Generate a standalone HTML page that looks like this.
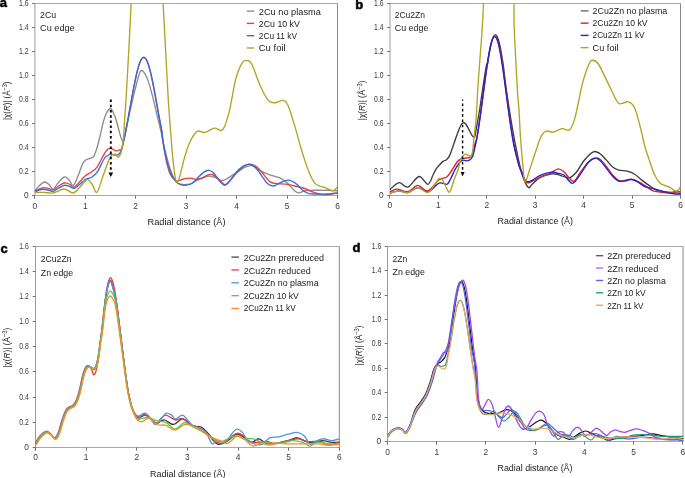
<!DOCTYPE html>
<html><head><meta charset="utf-8"><style>
html,body{margin:0;padding:0;background:#fff;overflow:hidden;}
svg{display:block;will-change:transform;font-family:"Liberation Sans", sans-serif;}
</style></head><body>
<svg width="685" height="478" viewBox="0 0 685 478">
<rect width="685" height="478" fill="#fff"/>
<clipPath id="clipa"><rect x="34.90" y="3.50" width="302.60" height="192.00"/></clipPath>
<line x1="34.90" y1="3.50" x2="338.00" y2="3.50" stroke="#a8a8a8" stroke-width="1"/>
<line x1="34.90" y1="195.50" x2="337.50" y2="195.50" stroke="#a8a8a8" stroke-width="1"/>
<line x1="34.90" y1="3.00" x2="34.90" y2="196.00" stroke="#9c9c9c" stroke-width="1"/>
<line x1="337.50" y1="4.00" x2="337.50" y2="196.00" stroke="#8a8a8a" stroke-width="1"/>
<line x1="32.10" y1="195.50" x2="34.90" y2="195.50" stroke="#707070" stroke-width="1"/>
<text x="28.60" y="197.90" font-size="8.40" fill="#3a3a3a" text-anchor="end" font-weight="normal">0</text>
<line x1="32.10" y1="171.50" x2="34.90" y2="171.50" stroke="#707070" stroke-width="1"/>
<text x="28.60" y="173.90" font-size="8.40" fill="#3a3a3a" text-anchor="end" font-weight="normal" textLength="9.50" lengthAdjust="spacingAndGlyphs">0.2</text>
<line x1="32.10" y1="147.50" x2="34.90" y2="147.50" stroke="#707070" stroke-width="1"/>
<text x="28.60" y="149.90" font-size="8.40" fill="#3a3a3a" text-anchor="end" font-weight="normal" textLength="9.50" lengthAdjust="spacingAndGlyphs">0.4</text>
<line x1="32.10" y1="123.50" x2="34.90" y2="123.50" stroke="#707070" stroke-width="1"/>
<text x="28.60" y="125.90" font-size="8.40" fill="#3a3a3a" text-anchor="end" font-weight="normal" textLength="9.50" lengthAdjust="spacingAndGlyphs">0.6</text>
<line x1="32.10" y1="99.50" x2="34.90" y2="99.50" stroke="#707070" stroke-width="1"/>
<text x="28.60" y="101.90" font-size="8.40" fill="#3a3a3a" text-anchor="end" font-weight="normal" textLength="9.50" lengthAdjust="spacingAndGlyphs">0.8</text>
<line x1="32.10" y1="75.50" x2="34.90" y2="75.50" stroke="#707070" stroke-width="1"/>
<text x="28.60" y="77.90" font-size="8.40" fill="#3a3a3a" text-anchor="end" font-weight="normal" textLength="9.50" lengthAdjust="spacingAndGlyphs">1.0</text>
<line x1="32.10" y1="51.50" x2="34.90" y2="51.50" stroke="#707070" stroke-width="1"/>
<text x="28.60" y="53.90" font-size="8.40" fill="#3a3a3a" text-anchor="end" font-weight="normal" textLength="9.50" lengthAdjust="spacingAndGlyphs">1.2</text>
<line x1="32.10" y1="27.50" x2="34.90" y2="27.50" stroke="#707070" stroke-width="1"/>
<text x="28.60" y="29.90" font-size="8.40" fill="#3a3a3a" text-anchor="end" font-weight="normal" textLength="9.50" lengthAdjust="spacingAndGlyphs">1.4</text>
<line x1="32.10" y1="3.50" x2="34.90" y2="3.50" stroke="#707070" stroke-width="1"/>
<text x="28.60" y="5.90" font-size="8.40" fill="#3a3a3a" text-anchor="end" font-weight="normal" textLength="9.50" lengthAdjust="spacingAndGlyphs">1.6</text>
<line x1="34.50" y1="195.50" x2="34.50" y2="198.70" stroke="#707070" stroke-width="1"/>
<text x="34.80" y="208.80" font-size="8.40" fill="#3a3a3a" text-anchor="middle" font-weight="normal">0</text>
<line x1="85.50" y1="195.50" x2="85.50" y2="198.70" stroke="#707070" stroke-width="1"/>
<text x="85.25" y="208.80" font-size="8.40" fill="#3a3a3a" text-anchor="middle" font-weight="normal">1</text>
<line x1="135.50" y1="195.50" x2="135.50" y2="198.70" stroke="#707070" stroke-width="1"/>
<text x="135.70" y="208.80" font-size="8.40" fill="#3a3a3a" text-anchor="middle" font-weight="normal">2</text>
<line x1="186.50" y1="195.50" x2="186.50" y2="198.70" stroke="#707070" stroke-width="1"/>
<text x="186.15" y="208.80" font-size="8.40" fill="#3a3a3a" text-anchor="middle" font-weight="normal">3</text>
<line x1="236.50" y1="195.50" x2="236.50" y2="198.70" stroke="#707070" stroke-width="1"/>
<text x="236.60" y="208.80" font-size="8.40" fill="#3a3a3a" text-anchor="middle" font-weight="normal">4</text>
<line x1="287.50" y1="195.50" x2="287.50" y2="198.70" stroke="#707070" stroke-width="1"/>
<text x="287.05" y="208.80" font-size="8.40" fill="#3a3a3a" text-anchor="middle" font-weight="normal">5</text>
<line x1="337.50" y1="195.50" x2="337.50" y2="198.70" stroke="#707070" stroke-width="1"/>
<text x="337.50" y="208.80" font-size="8.40" fill="#3a3a3a" text-anchor="middle" font-weight="normal">6</text>
<path d="M35.00,190.80C35.75,189.92 37.90,186.97 39.50,185.50C41.10,184.03 43.02,182.17 44.60,182.00C46.18,181.83 47.58,183.30 49.00,184.50C50.42,185.70 51.60,189.45 53.10,189.20C54.60,188.95 56.13,185.03 58.00,183.00C59.87,180.97 62.47,177.50 64.30,177.00C66.13,176.50 67.50,178.58 69.00,180.00C70.50,181.42 71.80,186.17 73.30,185.50C74.80,184.83 76.47,179.58 78.00,176.00C79.53,172.42 81.17,166.70 82.50,164.00C83.83,161.30 84.75,160.73 86.00,159.80C87.25,158.87 88.73,158.95 90.00,158.40C91.27,157.85 92.50,158.07 93.60,156.50C94.70,154.93 95.60,152.08 96.60,149.00C97.60,145.92 98.57,142.17 99.60,138.00C100.63,133.83 101.73,128.00 102.80,124.00C103.87,120.00 104.75,116.58 106.00,114.00C107.25,111.42 109.05,108.67 110.30,108.50C111.55,108.33 112.55,111.17 113.50,113.00C114.45,114.83 115.17,116.87 116.00,119.50C116.83,122.13 117.62,125.67 118.50,128.80C119.38,131.93 120.45,136.33 121.30,138.30C122.15,140.27 122.77,142.32 123.60,140.60C124.43,138.88 125.38,132.27 126.30,128.00C127.22,123.73 128.20,119.08 129.10,115.00C130.00,110.92 130.85,107.13 131.70,103.50C132.55,99.87 133.40,96.45 134.20,93.20C135.00,89.95 135.78,86.78 136.50,84.00C137.22,81.22 137.90,78.53 138.50,76.50C139.10,74.47 139.65,72.80 140.10,71.80C140.55,70.80 140.68,70.57 141.20,70.50C141.72,70.43 142.53,70.81 143.20,71.41C143.87,72.01 144.53,72.92 145.20,74.09C145.87,75.25 146.53,76.73 147.20,78.40C147.87,80.08 148.53,82.04 149.20,84.16C149.87,86.27 150.53,88.62 151.20,91.07C151.87,93.52 152.53,96.17 153.20,98.86C153.87,101.54 154.53,104.37 155.20,107.18C155.87,109.99 156.53,112.89 157.20,115.73C157.87,118.56 158.53,121.43 159.20,124.21C159.87,126.98 160.50,129.15 161.20,132.37C161.90,135.59 162.33,138.86 163.40,143.50C164.47,148.14 166.20,155.18 167.60,160.20C169.00,165.22 170.42,170.03 171.80,173.60C173.18,177.17 174.53,179.85 175.90,181.60C177.27,183.35 177.72,183.68 180.00,184.10C182.28,184.52 186.60,184.80 189.60,184.10C192.60,183.40 195.02,181.20 198.00,179.90C200.98,178.60 204.92,176.80 207.50,176.30C210.08,175.80 211.10,176.20 213.50,176.90C215.90,177.60 219.50,180.30 221.90,180.50C224.30,180.70 225.50,179.40 227.90,178.10C230.30,176.80 233.52,174.48 236.30,172.70C239.08,170.92 242.22,168.58 244.60,167.40C246.98,166.22 248.87,165.72 250.60,165.60C252.33,165.48 253.23,165.78 255.00,166.70C256.77,167.62 258.72,169.75 261.20,171.10C263.68,172.45 266.80,173.67 269.90,174.80C273.00,175.93 276.90,176.55 279.80,177.90C282.70,179.25 285.02,180.93 287.30,182.90C289.58,184.87 291.65,188.05 293.50,189.70C295.35,191.35 296.55,192.60 298.40,192.80C300.25,193.00 302.53,191.32 304.60,190.90C306.67,190.48 307.70,190.40 310.80,190.30C313.90,190.20 319.68,190.30 323.20,190.30C326.72,190.30 329.52,190.20 331.90,190.30C334.28,190.40 336.57,190.80 337.50,190.90" fill="none" stroke="#8c8c8c" stroke-width="1.35" stroke-linejoin="round" stroke-linecap="round" clip-path="url(#clipa)"/>
<path d="M35.00,191.40C35.67,191.00 37.58,189.63 39.00,189.00C40.42,188.37 42.00,187.72 43.50,187.60C45.00,187.48 46.40,187.93 48.00,188.30C49.60,188.67 51.43,190.10 53.10,189.80C54.77,189.50 56.13,187.63 58.00,186.50C59.87,185.37 62.47,183.42 64.30,183.00C66.13,182.58 67.38,183.30 69.00,184.00C70.62,184.70 72.25,187.53 74.00,187.20C75.75,186.87 77.62,183.90 79.50,182.00C81.38,180.10 83.35,177.43 85.30,175.80C87.25,174.17 89.22,173.70 91.20,172.20C93.18,170.70 95.12,169.70 97.20,166.80C99.28,163.90 102.07,157.60 103.70,154.80C105.33,152.00 105.95,151.08 107.00,150.00C108.05,148.92 109.00,148.42 110.00,148.30C111.00,148.18 112.00,148.88 113.00,149.30C114.00,149.72 114.92,150.68 116.00,150.80C117.08,150.92 118.55,150.31 119.50,150.00C120.45,149.69 121.00,150.53 121.70,148.96C122.40,147.39 123.03,143.57 123.70,140.59C124.37,137.61 125.03,134.41 125.70,131.10C126.37,127.78 127.03,124.26 127.70,120.69C128.37,117.12 129.03,113.39 129.70,109.69C130.37,106.00 131.03,102.19 131.70,98.53C132.37,94.86 133.03,91.17 133.70,87.71C134.37,84.26 135.03,80.86 135.70,77.80C136.37,74.75 137.03,71.85 137.70,69.37C138.37,66.89 139.03,64.67 139.70,62.93C140.37,61.18 141.03,59.78 141.70,58.88C142.37,57.98 143.03,57.50 143.70,57.50C144.37,57.50 145.03,57.98 145.70,58.88C146.37,59.78 147.03,61.18 147.70,62.93C148.37,64.67 149.03,66.89 149.70,69.37C150.37,71.85 151.03,74.75 151.70,77.80C152.37,80.86 153.03,84.26 153.70,87.71C154.37,91.17 155.03,94.86 155.70,98.53C156.37,102.19 157.03,106.00 157.70,109.69C158.37,113.39 159.03,117.12 159.70,120.69C160.37,124.26 161.12,127.30 161.70,131.10C162.28,134.90 162.45,138.65 163.20,143.50C163.95,148.35 165.07,155.18 166.20,160.20C167.33,165.22 168.45,170.22 170.00,173.60C171.55,176.98 173.83,179.40 175.50,180.50C177.17,181.60 178.45,180.50 180.00,180.20C181.55,179.90 183.00,179.05 184.80,178.70C186.60,178.35 189.00,178.00 190.80,178.10C192.60,178.20 193.82,179.30 195.60,179.30C197.38,179.30 199.52,178.80 201.50,178.10C203.48,177.40 205.70,175.70 207.50,175.10C209.30,174.50 210.50,173.90 212.30,174.50C214.10,175.10 216.20,177.00 218.30,178.70C220.40,180.40 222.90,184.50 224.90,184.70C226.90,184.90 228.20,182.00 230.30,179.90C232.40,177.80 235.12,174.48 237.50,172.10C239.88,169.72 242.42,166.93 244.60,165.60C246.78,164.27 248.60,163.90 250.60,164.10C252.60,164.30 254.63,165.32 256.60,166.80C258.57,168.28 260.18,170.53 262.40,173.00C264.62,175.47 267.62,179.85 269.90,181.60C272.18,183.35 273.42,183.08 276.10,183.50C278.78,183.92 282.90,183.68 286.00,184.10C289.10,184.52 291.60,185.27 294.70,186.00C297.80,186.73 301.50,187.47 304.60,188.50C307.70,189.53 310.20,191.17 313.30,192.20C316.40,193.23 320.10,194.40 323.20,194.70C326.30,195.00 329.52,194.32 331.90,194.00C334.28,193.68 336.57,193.00 337.50,192.80" fill="none" stroke="#ef3b3b" stroke-width="1.35" stroke-linejoin="round" stroke-linecap="round" clip-path="url(#clipa)"/>
<path d="M35.00,192.00C35.67,191.67 37.58,190.47 39.00,190.00C40.42,189.53 42.00,189.20 43.50,189.20C45.00,189.20 46.40,189.63 48.00,190.00C49.60,190.37 51.43,191.65 53.10,191.40C54.77,191.15 56.13,189.52 58.00,188.50C59.87,187.48 62.47,185.68 64.30,185.30C66.13,184.92 67.35,185.68 69.00,186.20C70.65,186.72 72.45,188.68 74.20,188.40C75.95,188.12 77.65,185.98 79.50,184.50C81.35,183.02 83.35,180.67 85.30,179.50C87.25,178.33 89.22,178.72 91.20,177.50C93.18,176.28 95.12,175.20 97.20,172.20C99.28,169.20 102.07,162.20 103.70,159.50C105.33,156.80 105.95,156.87 107.00,156.00C108.05,155.13 109.00,154.53 110.00,154.30C111.00,154.07 112.00,154.43 113.00,154.60C114.00,154.77 114.97,155.40 116.00,155.30C117.03,155.20 118.23,155.09 119.20,154.00C120.17,152.91 121.03,151.01 121.80,148.74C122.57,146.46 123.13,143.34 123.80,140.36C124.47,137.38 125.13,134.18 125.80,130.86C126.47,127.54 127.13,124.01 127.80,120.44C128.47,116.87 129.13,113.13 129.80,109.43C130.47,105.74 131.13,101.93 131.80,98.26C132.47,94.60 133.13,90.89 133.80,87.44C134.47,83.98 135.13,80.58 135.80,77.52C136.47,74.46 137.13,71.56 137.80,69.08C138.47,66.60 139.13,64.38 139.80,62.63C140.47,60.88 141.13,59.49 141.80,58.58C142.47,57.68 143.13,57.20 143.80,57.20C144.47,57.20 145.13,57.68 145.80,58.58C146.47,59.49 147.13,60.88 147.80,62.63C148.47,64.38 149.13,66.60 149.80,69.08C150.47,71.56 151.13,74.46 151.80,77.52C152.47,80.58 153.13,83.98 153.80,87.44C154.47,90.89 155.13,94.60 155.80,98.26C156.47,101.93 157.13,105.74 157.80,109.43C158.47,113.13 159.13,116.87 159.80,120.44C160.47,124.01 161.20,127.01 161.80,130.86C162.40,134.70 162.58,138.61 163.40,143.50C164.22,148.39 165.45,155.18 166.70,160.20C167.95,165.22 169.37,170.05 170.90,173.60C172.43,177.15 174.38,179.72 175.90,181.50C177.42,183.28 178.52,183.67 180.00,184.30C181.48,184.93 182.80,185.43 184.80,185.30C186.80,185.17 189.80,184.80 192.00,183.50C194.20,182.20 196.02,179.40 198.00,177.50C199.98,175.60 202.12,173.30 203.90,172.10C205.68,170.90 207.10,170.20 208.70,170.30C210.30,170.40 211.70,170.90 213.50,172.70C215.30,174.50 217.60,179.00 219.50,181.10C221.40,183.20 223.10,185.40 224.90,185.30C226.70,185.20 228.40,182.70 230.30,180.50C232.20,178.30 234.32,174.38 236.30,172.10C238.28,169.82 240.22,168.08 242.20,166.80C244.18,165.52 246.40,164.60 248.20,164.40C250.00,164.20 251.40,164.62 253.00,165.60C254.60,166.58 256.30,168.52 257.80,170.30C259.30,172.08 260.40,174.10 262.00,176.30C263.60,178.50 265.47,181.88 267.40,183.50C269.33,185.12 271.53,186.10 273.60,186.00C275.67,185.90 277.32,183.88 279.80,182.90C282.28,181.92 285.82,180.00 288.50,180.10C291.18,180.20 293.63,181.90 295.90,183.50C298.17,185.10 300.03,188.05 302.10,189.70C304.17,191.35 305.82,192.68 308.30,193.40C310.78,194.12 313.88,193.90 317.00,194.00C320.12,194.10 323.58,194.20 327.00,194.00C330.42,193.80 335.75,193.00 337.50,192.80" fill="none" stroke="#2b70dc" stroke-width="1.35" stroke-linejoin="round" stroke-linecap="round" clip-path="url(#clipa)"/>
<path d="M35.00,192.40C36.50,192.40 40.98,192.30 44.00,192.40C47.02,192.50 49.75,193.57 53.10,193.00C56.45,192.43 60.75,189.00 64.10,189.00C67.45,189.00 70.55,193.33 73.20,193.00C75.85,192.67 77.67,189.22 80.00,187.00C82.33,184.78 85.20,180.20 87.20,179.70C89.20,179.20 90.38,181.92 92.00,184.00C93.62,186.08 95.07,193.53 96.90,192.20C98.73,190.87 100.77,181.83 103.00,176.00C105.23,170.17 108.25,160.83 110.30,157.20C112.35,153.57 113.97,154.20 115.30,154.20C116.63,154.20 117.32,157.55 118.30,157.20C119.28,156.85 120.35,155.15 121.20,152.10C122.05,149.05 122.80,144.75 123.40,138.90C124.00,133.05 124.32,124.32 124.80,117.00C125.28,109.68 125.63,106.17 126.30,95.00C126.97,83.83 127.98,65.33 128.80,50.00C129.62,34.67 130.67,13.33 131.20,3.00C131.73,-7.33 126.78,-9.50 132.00,-12.00C137.22,-14.50 157.32,-14.50 162.50,-12.00C167.68,-9.50 162.58,-7.33 163.10,3.00C163.62,13.33 164.75,34.17 165.60,50.00C166.45,65.83 167.38,84.67 168.20,98.00C169.02,111.33 169.73,120.00 170.50,130.00C171.27,140.00 172.05,150.33 172.80,158.00C173.55,165.67 174.37,172.00 175.00,176.00C175.63,180.00 175.93,181.50 176.60,182.00C177.27,182.50 177.65,183.17 179.00,179.00C180.35,174.83 182.87,163.20 184.70,157.00C186.53,150.80 187.92,146.07 190.00,141.80C192.08,137.53 194.75,132.97 197.20,131.40C199.65,129.83 201.82,132.95 204.70,132.40C207.58,131.85 211.52,128.53 214.50,128.10C217.48,127.67 220.15,132.52 222.60,129.80C225.05,127.08 227.02,120.23 229.20,111.80C231.38,103.37 233.53,87.37 235.70,79.20C237.87,71.03 240.30,65.90 242.20,62.80C244.10,59.70 245.47,60.32 247.10,60.60C248.73,60.88 249.82,60.32 252.00,64.50C254.18,68.68 257.48,79.72 260.20,85.70C262.92,91.68 265.85,97.57 268.30,100.40C270.75,103.23 272.45,102.70 274.90,102.70C277.35,102.70 280.83,99.97 283.00,100.40C285.17,100.83 286.00,101.22 287.90,105.30C289.80,109.38 292.23,117.78 294.40,124.90C296.57,132.02 299.13,141.98 300.90,148.00C302.67,154.02 303.55,156.73 305.00,161.00C306.45,165.27 308.00,169.95 309.60,173.60C311.20,177.25 312.95,180.83 314.60,182.90C316.25,184.97 317.65,185.18 319.50,186.00C321.35,186.82 323.63,186.98 325.70,187.80C327.77,188.62 330.45,190.48 331.90,190.90C333.35,191.32 333.47,191.02 334.40,190.30C335.33,189.58 336.98,187.22 337.50,186.60" fill="none" stroke="#b3a322" stroke-width="1.35" stroke-linejoin="round" stroke-linecap="round" clip-path="url(#clipa)"/>
<line x1="110.80" y1="99.60" x2="110.80" y2="172.40" stroke="#000" stroke-width="1.90" stroke-dasharray="2.5 2.7" stroke-dashoffset="0.00"/>
<path d="M108.45,172.40L113.15,172.40L110.80,177.00Z" fill="#000"/>
<line x1="246.80" y1="11.10" x2="254.10" y2="11.10" stroke="#8c8c8c" stroke-width="1.4"/>
<text x="258.80" y="14.80" font-size="9.40" fill="#222222" text-anchor="start" font-weight="normal" textLength="62.00" lengthAdjust="spacingAndGlyphs">2Cu no plasma</text>
<line x1="246.80" y1="23.40" x2="254.10" y2="23.40" stroke="#ef3b3b" stroke-width="1.4"/>
<text x="258.80" y="27.00" font-size="9.40" fill="#222222" text-anchor="start" font-weight="normal" textLength="41.10" lengthAdjust="spacingAndGlyphs">2Cu 10 kV</text>
<line x1="246.80" y1="35.70" x2="254.10" y2="35.70" stroke="#2b70dc" stroke-width="1.4"/>
<text x="258.80" y="39.20" font-size="9.40" fill="#222222" text-anchor="start" font-weight="normal" textLength="38.20" lengthAdjust="spacingAndGlyphs">2Cu 11 kV</text>
<line x1="246.80" y1="48.00" x2="254.10" y2="48.00" stroke="#b3a322" stroke-width="1.4"/>
<text x="258.80" y="51.40" font-size="9.40" fill="#222222" text-anchor="start" font-weight="normal" textLength="26.80" lengthAdjust="spacingAndGlyphs">Cu foil</text>
<text x="40.00" y="18.30" font-size="9.40" fill="#222222" text-anchor="start" font-weight="normal" textLength="16.10" lengthAdjust="spacingAndGlyphs">2Cu</text>
<text x="40.00" y="31.40" font-size="9.40" fill="#222222" text-anchor="start" font-weight="normal" textLength="34.70" lengthAdjust="spacingAndGlyphs">Cu edge</text>
<text x="147.50" y="225.10" font-size="9.40" fill="#222222" text-anchor="start" font-weight="normal" textLength="78.00" lengthAdjust="spacingAndGlyphs">Radial distance (&#197;)</text>
<text transform="translate(9.50,100.75) rotate(-90)" font-size="9.30" fill="#222222" text-anchor="middle" textLength="38.50" lengthAdjust="spacingAndGlyphs">|&#967;(<tspan font-style="italic">R</tspan>)| (&#197;<tspan font-size="6.51" dy="-3">&#8722;3</tspan><tspan dy="3">)</tspan></text>
<text x="-0.30" y="6.80" font-size="13.00" fill="#000" text-anchor="start" font-weight="bold" stroke="#000" stroke-width="0.5">a</text>
<clipPath id="clipb"><rect x="390.00" y="3.50" width="290.50" height="192.00"/></clipPath>
<line x1="390.00" y1="3.50" x2="681.00" y2="3.50" stroke="#a8a8a8" stroke-width="1"/>
<line x1="390.00" y1="195.50" x2="680.50" y2="195.50" stroke="#a8a8a8" stroke-width="1"/>
<line x1="390.00" y1="3.00" x2="390.00" y2="196.00" stroke="#9c9c9c" stroke-width="1"/>
<line x1="680.50" y1="4.00" x2="680.50" y2="196.00" stroke="#8a8a8a" stroke-width="1"/>
<line x1="387.20" y1="195.50" x2="390.00" y2="195.50" stroke="#707070" stroke-width="1"/>
<text x="383.60" y="197.70" font-size="8.40" fill="#3a3a3a" text-anchor="end" font-weight="normal">0</text>
<line x1="387.20" y1="171.50" x2="390.00" y2="171.50" stroke="#707070" stroke-width="1"/>
<text x="383.60" y="173.71" font-size="8.40" fill="#3a3a3a" text-anchor="end" font-weight="normal" textLength="9.50" lengthAdjust="spacingAndGlyphs">0.2</text>
<line x1="387.20" y1="147.50" x2="390.00" y2="147.50" stroke="#707070" stroke-width="1"/>
<text x="383.60" y="149.72" font-size="8.40" fill="#3a3a3a" text-anchor="end" font-weight="normal" textLength="9.50" lengthAdjust="spacingAndGlyphs">0.4</text>
<line x1="387.20" y1="123.50" x2="390.00" y2="123.50" stroke="#707070" stroke-width="1"/>
<text x="383.60" y="125.74" font-size="8.40" fill="#3a3a3a" text-anchor="end" font-weight="normal" textLength="9.50" lengthAdjust="spacingAndGlyphs">0.6</text>
<line x1="387.20" y1="99.50" x2="390.00" y2="99.50" stroke="#707070" stroke-width="1"/>
<text x="383.60" y="101.75" font-size="8.40" fill="#3a3a3a" text-anchor="end" font-weight="normal" textLength="9.50" lengthAdjust="spacingAndGlyphs">0.8</text>
<line x1="387.20" y1="75.50" x2="390.00" y2="75.50" stroke="#707070" stroke-width="1"/>
<text x="383.60" y="77.76" font-size="8.40" fill="#3a3a3a" text-anchor="end" font-weight="normal" textLength="9.50" lengthAdjust="spacingAndGlyphs">1.0</text>
<line x1="387.20" y1="51.50" x2="390.00" y2="51.50" stroke="#707070" stroke-width="1"/>
<text x="383.60" y="53.77" font-size="8.40" fill="#3a3a3a" text-anchor="end" font-weight="normal" textLength="9.50" lengthAdjust="spacingAndGlyphs">1.2</text>
<line x1="387.20" y1="27.50" x2="390.00" y2="27.50" stroke="#707070" stroke-width="1"/>
<text x="383.60" y="29.78" font-size="8.40" fill="#3a3a3a" text-anchor="end" font-weight="normal" textLength="9.50" lengthAdjust="spacingAndGlyphs">1.4</text>
<line x1="387.20" y1="3.50" x2="390.00" y2="3.50" stroke="#707070" stroke-width="1"/>
<text x="383.60" y="5.80" font-size="8.40" fill="#3a3a3a" text-anchor="end" font-weight="normal" textLength="9.50" lengthAdjust="spacingAndGlyphs">1.6</text>
<line x1="389.50" y1="195.50" x2="389.50" y2="198.70" stroke="#707070" stroke-width="1"/>
<text x="389.90" y="208.20" font-size="8.40" fill="#3a3a3a" text-anchor="middle" font-weight="normal">0</text>
<line x1="438.50" y1="195.50" x2="438.50" y2="198.70" stroke="#707070" stroke-width="1"/>
<text x="438.33" y="208.20" font-size="8.40" fill="#3a3a3a" text-anchor="middle" font-weight="normal">1</text>
<line x1="486.50" y1="195.50" x2="486.50" y2="198.70" stroke="#707070" stroke-width="1"/>
<text x="486.76" y="208.20" font-size="8.40" fill="#3a3a3a" text-anchor="middle" font-weight="normal">2</text>
<line x1="535.50" y1="195.50" x2="535.50" y2="198.70" stroke="#707070" stroke-width="1"/>
<text x="535.19" y="208.20" font-size="8.40" fill="#3a3a3a" text-anchor="middle" font-weight="normal">3</text>
<line x1="583.50" y1="195.50" x2="583.50" y2="198.70" stroke="#707070" stroke-width="1"/>
<text x="583.62" y="208.20" font-size="8.40" fill="#3a3a3a" text-anchor="middle" font-weight="normal">4</text>
<line x1="632.50" y1="195.50" x2="632.50" y2="198.70" stroke="#707070" stroke-width="1"/>
<text x="632.05" y="208.20" font-size="8.40" fill="#3a3a3a" text-anchor="middle" font-weight="normal">5</text>
<line x1="680.50" y1="195.50" x2="680.50" y2="198.70" stroke="#707070" stroke-width="1"/>
<text x="680.48" y="208.20" font-size="8.40" fill="#3a3a3a" text-anchor="middle" font-weight="normal">6</text>
<path d="M389.80,189.80C391.35,188.62 396.07,183.15 399.10,182.70C402.13,182.25 404.68,188.13 408.00,187.10C411.32,186.07 415.68,176.97 419.00,176.50C422.32,176.03 425.57,184.55 427.90,184.30C430.23,184.05 431.65,177.52 433.00,175.00C434.35,172.48 434.92,170.87 436.00,169.20C437.08,167.53 438.33,166.30 439.50,165.00C440.67,163.70 441.83,162.28 443.00,161.40C444.17,160.52 445.40,160.67 446.50,159.70C447.60,158.73 448.57,157.68 449.60,155.60C450.63,153.52 451.65,150.17 452.70,147.20C453.75,144.23 454.85,140.77 455.90,137.80C456.95,134.83 458.10,131.62 459.00,129.40C459.90,127.18 460.63,125.60 461.30,124.50C461.97,123.40 462.30,122.92 463.00,122.80C463.70,122.68 464.57,122.80 465.50,123.80C466.43,124.80 467.55,126.92 468.60,128.80C469.65,130.68 470.97,133.73 471.80,135.10C472.63,136.47 473.07,136.93 473.60,137.00C474.13,137.07 474.37,137.92 475.00,135.50C475.63,133.08 476.58,127.08 477.40,122.50C478.22,117.92 478.97,114.00 479.90,108.00C480.83,102.00 481.90,93.67 483.00,86.50C484.10,79.33 485.78,68.54 486.50,65.00C487.22,61.46 486.83,67.33 487.30,65.29C487.77,63.25 488.63,56.48 489.30,52.76C489.97,49.04 490.63,45.64 491.30,42.97C491.97,40.30 492.63,38.13 493.30,36.74C493.97,35.34 494.63,34.60 495.30,34.60C495.97,34.60 496.63,35.34 497.30,36.74C497.97,38.13 498.63,40.30 499.30,42.97C499.97,45.64 500.63,49.04 501.30,52.76C501.97,56.48 502.52,59.58 503.30,65.29C504.08,71.00 504.80,78.38 506.00,87.00C507.20,95.62 508.82,106.80 510.50,117.00C512.18,127.20 514.17,138.65 516.10,148.20C518.03,157.75 520.10,167.78 522.10,174.30C524.10,180.82 526.43,185.63 528.10,187.30C529.77,188.97 530.08,185.97 532.10,184.30C534.12,182.63 536.85,179.03 540.20,177.30C543.55,175.57 548.87,174.23 552.20,173.90C555.53,173.57 557.35,174.63 560.20,175.30C563.05,175.97 566.62,178.40 569.30,177.90C571.98,177.40 573.80,175.25 576.30,172.30C578.80,169.35 581.45,163.62 584.30,160.20C587.15,156.78 590.78,152.88 593.40,151.80C596.02,150.72 597.87,152.35 600.00,153.70C602.13,155.05 604.13,157.73 606.20,159.90C608.27,162.07 610.33,164.98 612.40,166.70C614.47,168.42 616.12,169.47 618.60,170.20C621.08,170.93 624.62,170.43 627.30,171.10C629.98,171.77 632.22,172.65 634.70,174.20C637.18,175.75 639.72,178.45 642.20,180.40C644.68,182.35 647.12,184.25 649.60,185.90C652.08,187.55 654.40,189.30 657.10,190.30C659.80,191.30 662.92,191.48 665.80,191.90C668.68,192.32 671.93,192.55 674.40,192.80C676.87,193.05 679.57,193.30 680.60,193.40" fill="none" stroke="#3c3c3c" stroke-width="1.35" stroke-linejoin="round" stroke-linecap="round" clip-path="url(#clipb)"/>
<path d="M389.80,192.00C390.98,191.52 393.87,189.17 396.90,189.10C399.93,189.03 404.50,192.22 408.00,191.60C411.50,190.98 414.58,185.52 417.90,185.40C421.22,185.28 424.38,191.83 427.90,190.90C431.42,189.97 435.85,182.12 439.00,179.80C442.15,177.48 444.68,178.55 446.80,177.00C448.92,175.45 450.02,172.97 451.70,170.50C453.38,168.03 455.33,164.13 456.90,162.20C458.47,160.27 459.88,159.55 461.10,158.90C462.32,158.25 463.15,158.48 464.20,158.30C465.25,158.12 466.45,157.95 467.40,157.80C468.35,157.65 468.97,158.25 469.90,157.40C470.83,156.55 472.17,154.95 473.00,152.70C473.83,150.45 474.25,146.30 474.90,143.90C475.55,141.50 476.23,141.27 476.90,138.27C477.57,135.28 478.23,130.32 478.90,125.94C479.57,121.57 480.23,116.85 480.90,112.04C481.57,107.23 482.23,102.12 482.90,97.10C483.57,92.07 484.23,86.85 484.90,81.90C485.57,76.95 486.23,71.94 486.90,67.40C487.57,62.86 488.23,58.44 488.90,54.65C489.57,50.86 490.23,47.39 490.90,44.66C491.57,41.93 492.23,39.72 492.90,38.29C493.57,36.86 494.23,36.10 494.90,36.10C495.57,36.10 496.23,36.86 496.90,38.29C497.57,39.72 498.23,41.93 498.90,44.66C499.57,47.39 500.23,50.86 500.90,54.65C501.57,58.44 502.23,62.86 502.90,67.40C503.57,71.94 504.23,76.95 504.90,81.90C505.57,86.85 506.23,92.07 506.90,97.10C507.57,102.12 508.23,107.23 508.90,112.04C509.57,116.85 510.23,121.57 510.90,125.94C511.57,130.32 512.23,134.48 512.90,138.27C513.57,142.07 513.92,144.35 514.90,148.72C515.88,153.10 517.60,160.57 518.80,164.50C520.00,168.43 520.88,169.33 522.10,172.30C523.32,175.27 524.43,180.80 526.10,182.30C527.77,183.80 529.75,182.13 532.10,181.30C534.45,180.47 537.18,178.63 540.20,177.30C543.22,175.97 547.20,174.70 550.20,173.30C553.20,171.90 555.85,169.07 558.20,168.90C560.55,168.73 561.78,170.23 564.30,172.30C566.82,174.37 570.63,181.30 573.30,181.30C575.97,181.30 577.78,175.48 580.30,172.30C582.82,169.12 585.88,164.57 588.40,162.20C590.92,159.83 593.47,158.58 595.40,158.10C597.33,157.62 598.20,157.97 600.00,159.30C601.80,160.63 604.13,163.52 606.20,166.10C608.27,168.68 610.33,172.42 612.40,174.80C614.47,177.18 616.53,179.47 618.60,180.40C620.67,181.33 622.73,180.62 624.80,180.40C626.87,180.18 628.93,179.00 631.00,179.10C633.07,179.20 634.92,179.97 637.20,181.00C639.48,182.03 642.22,183.75 644.70,185.30C647.18,186.85 649.62,189.17 652.10,190.30C654.58,191.43 656.92,191.68 659.60,192.10C662.28,192.52 665.52,192.90 668.20,192.80C670.88,192.70 673.63,191.65 675.70,191.50C677.77,191.35 679.78,191.83 680.60,191.90" fill="none" stroke="#dd2026" stroke-width="1.35" stroke-linejoin="round" stroke-linecap="round" clip-path="url(#clipb)"/>
<path d="M389.80,193.10C391.35,192.73 396.07,191.00 399.10,190.90C402.13,190.80 404.87,193.05 408.00,192.50C411.13,191.95 414.58,187.68 417.90,187.60C421.22,187.52 424.38,192.75 427.90,192.00C431.42,191.25 435.85,184.38 439.00,183.10C442.15,181.82 444.88,184.98 446.80,184.30C448.72,183.62 449.17,181.38 450.50,179.00C451.83,176.62 453.45,172.50 454.80,170.00C456.15,167.50 457.35,165.63 458.60,164.00C459.85,162.37 461.05,160.73 462.30,160.20C463.55,159.67 464.93,160.80 466.10,160.80C467.27,160.80 468.25,160.83 469.30,160.20C470.35,159.57 471.47,159.10 472.40,157.00C473.33,154.90 474.18,150.64 474.90,147.60C475.62,144.56 476.07,142.30 476.70,138.77C477.33,135.25 478.03,130.82 478.70,126.44C479.37,122.07 480.03,117.35 480.70,112.54C481.37,107.73 482.03,102.62 482.70,97.60C483.37,92.57 484.03,87.35 484.70,82.40C485.37,77.45 486.03,72.44 486.70,67.90C487.37,63.36 488.03,58.94 488.70,55.15C489.37,51.36 490.03,47.89 490.70,45.16C491.37,42.43 492.03,40.22 492.70,38.79C493.37,37.36 494.03,36.60 494.70,36.60C495.37,36.60 496.03,37.36 496.70,38.79C497.37,40.22 498.03,42.43 498.70,45.16C499.37,47.89 500.03,51.36 500.70,55.15C501.37,58.94 502.03,63.36 502.70,67.90C503.37,72.44 504.03,77.45 504.70,82.40C505.37,87.35 506.03,92.57 506.70,97.60C507.37,102.62 508.03,107.73 508.70,112.54C509.37,117.35 510.03,122.07 510.70,126.44C511.37,130.82 512.03,134.98 512.70,138.77C513.37,142.57 513.70,144.90 514.70,149.22C515.70,153.55 517.55,160.82 518.70,164.70C519.85,168.58 520.37,169.73 521.60,172.50C522.83,175.27 524.35,180.00 526.10,181.30C527.85,182.60 529.75,181.30 532.10,180.30C534.45,179.30 537.18,176.63 540.20,175.30C543.22,173.97 547.20,172.63 550.20,172.30C553.20,171.97 555.85,172.80 558.20,173.30C560.55,173.80 561.95,173.63 564.30,175.30C566.65,176.97 569.63,183.47 572.30,183.30C574.97,183.13 577.62,177.82 580.30,174.30C582.98,170.78 586.05,164.88 588.40,162.20C590.75,159.52 592.47,158.48 594.40,158.20C596.33,157.92 598.03,158.87 600.00,160.50C601.97,162.13 604.13,165.42 606.20,168.00C608.27,170.58 610.33,173.83 612.40,176.00C614.47,178.17 616.53,180.17 618.60,181.00C620.67,181.83 622.73,181.25 624.80,181.00C626.87,180.75 628.93,179.40 631.00,179.50C633.07,179.60 634.92,180.42 637.20,181.60C639.48,182.78 642.22,185.47 644.70,186.60C647.18,187.73 649.62,187.78 652.10,188.40C654.58,189.02 656.92,189.57 659.60,190.30C662.28,191.03 665.52,192.18 668.20,192.80C670.88,193.42 673.63,193.80 675.70,194.00C677.77,194.20 679.78,194.00 680.60,194.00" fill="none" stroke="#2124d2" stroke-width="1.35" stroke-linejoin="round" stroke-linecap="round" clip-path="url(#clipb)"/>
<path d="M389.80,193.10C391.35,192.73 396.07,191.00 399.10,190.90C402.13,190.80 404.87,193.05 408.00,192.50C411.13,191.95 414.58,187.60 417.90,187.60C421.22,187.60 425.05,193.10 427.90,192.50C430.75,191.90 433.15,186.30 435.00,184.00C436.85,181.70 437.78,179.40 439.00,178.70C440.22,178.00 441.13,178.42 442.30,179.80C443.47,181.18 444.77,184.97 446.00,187.00C447.23,189.03 448.37,193.17 449.70,192.00C451.03,190.83 452.62,183.67 454.00,180.00C455.38,176.33 456.92,173.30 458.00,170.00C459.08,166.70 459.67,162.57 460.50,160.20C461.33,157.83 462.17,156.80 463.00,155.80C463.83,154.80 464.57,154.27 465.50,154.20C466.43,154.13 467.77,155.03 468.60,155.40C469.43,155.77 469.87,156.85 470.50,156.40C471.13,155.95 471.77,156.25 472.40,152.70C473.03,149.15 473.67,140.97 474.30,135.10C474.93,129.23 475.63,125.02 476.20,117.50C476.77,109.98 477.07,99.92 477.70,90.00C478.33,80.08 479.27,68.00 480.00,58.00C480.73,48.00 481.52,39.17 482.10,30.00C482.68,20.83 483.18,10.00 483.50,3.00C483.82,-4.00 479.00,-9.50 484.00,-12.00C489.00,-14.50 508.50,-14.50 513.50,-12.00C518.50,-9.50 513.87,-4.00 514.00,3.00C514.13,10.00 513.75,15.73 514.30,30.00C514.85,44.27 516.52,75.27 517.30,88.60C518.08,101.93 518.52,102.68 519.00,110.00C519.48,117.32 519.78,125.83 520.20,132.50C520.62,139.17 521.02,144.08 521.50,150.00C521.98,155.92 522.50,162.62 523.10,168.00C523.70,173.38 523.93,182.25 525.10,182.30C526.27,182.35 528.27,173.65 530.10,168.30C531.93,162.95 534.25,155.57 536.10,150.20C537.95,144.83 539.52,139.28 541.20,136.10C542.88,132.92 544.20,131.77 546.20,131.10C548.20,130.43 550.53,132.50 553.20,132.10C555.87,131.70 559.52,129.03 562.20,128.70C564.88,128.37 567.28,131.53 569.30,130.10C571.32,128.67 572.77,124.78 574.30,120.10C575.83,115.42 577.12,108.20 578.50,102.00C579.88,95.80 580.85,89.23 582.60,82.90C584.35,76.57 587.32,67.78 589.00,64.00C590.68,60.22 591.13,60.20 592.70,60.20C594.27,60.20 595.87,60.22 598.40,64.00C600.93,67.78 604.73,76.58 607.90,82.90C611.07,89.22 615.03,98.48 617.40,101.90C619.77,105.32 620.27,103.40 622.10,103.40C623.93,103.40 626.28,101.10 628.40,101.90C630.52,102.70 632.68,103.47 634.80,108.20C636.92,112.93 639.48,124.17 641.10,130.30C642.72,136.43 643.08,139.87 644.50,145.00C645.92,150.13 647.92,156.13 649.60,161.10C651.28,166.07 652.93,171.18 654.60,174.80C656.27,178.42 657.95,181.05 659.60,182.80C661.25,184.55 662.85,184.57 664.50,185.30C666.15,186.03 667.85,186.37 669.50,187.20C671.15,188.03 673.07,189.68 674.40,190.30C675.73,190.92 676.47,191.52 677.50,190.90C678.53,190.28 680.08,187.32 680.60,186.60" fill="none" stroke="#b3a322" stroke-width="1.35" stroke-linejoin="round" stroke-linecap="round" clip-path="url(#clipb)"/>
<line x1="462.60" y1="99.50" x2="462.60" y2="171.60" stroke="#000" stroke-width="1.40" stroke-dasharray="2.6 2.7" stroke-dashoffset="1.30"/>
<path d="M460.60,172.00L464.60,172.00L462.60,176.60Z" fill="#000"/>
<line x1="580.70" y1="10.90" x2="588.60" y2="10.90" stroke="#707070" stroke-width="1.4"/>
<text x="592.60" y="14.20" font-size="9.40" fill="#222222" text-anchor="start" font-weight="normal" textLength="74.70" lengthAdjust="spacingAndGlyphs">2Cu2Zn no plasma</text>
<line x1="580.70" y1="23.15" x2="588.60" y2="23.15" stroke="#dd2026" stroke-width="1.4"/>
<text x="592.60" y="26.33" font-size="9.40" fill="#222222" text-anchor="start" font-weight="normal" textLength="54.90" lengthAdjust="spacingAndGlyphs">2Cu2Zn 10 kV</text>
<line x1="580.70" y1="35.40" x2="588.60" y2="35.40" stroke="#2124d2" stroke-width="1.4"/>
<text x="592.60" y="38.46" font-size="9.40" fill="#222222" text-anchor="start" font-weight="normal" textLength="51.90" lengthAdjust="spacingAndGlyphs">2Cu2Zn 11 kV</text>
<line x1="580.70" y1="47.65" x2="588.60" y2="47.65" stroke="#b3a322" stroke-width="1.4"/>
<text x="592.60" y="50.59" font-size="9.40" fill="#222222" text-anchor="start" font-weight="normal" textLength="26.00" lengthAdjust="spacingAndGlyphs">Cu foil</text>
<text x="394.70" y="18.10" font-size="9.40" fill="#222222" text-anchor="start" font-weight="normal" textLength="30.30" lengthAdjust="spacingAndGlyphs">2Cu2Zn</text>
<text x="394.70" y="31.30" font-size="9.40" fill="#222222" text-anchor="start" font-weight="normal" textLength="33.80" lengthAdjust="spacingAndGlyphs">Cu edge</text>
<text x="497.50" y="223.90" font-size="9.40" fill="#222222" text-anchor="start" font-weight="normal" textLength="75.40" lengthAdjust="spacingAndGlyphs">Radial distance (&#197;)</text>
<text transform="translate(364.80,100.35) rotate(-90)" font-size="9.30" fill="#222222" text-anchor="middle" textLength="39.70" lengthAdjust="spacingAndGlyphs">|&#967;(<tspan font-style="italic">R</tspan>)| (&#197;<tspan font-size="6.51" dy="-3">&#8722;3</tspan><tspan dy="3">)</tspan></text>
<text x="355.30" y="9.10" font-size="13.00" fill="#000" text-anchor="start" font-weight="bold" stroke="#000" stroke-width="0.5">b</text>
<clipPath id="clipc"><rect x="35.50" y="246.50" width="303.80" height="201.00"/></clipPath>
<line x1="35.50" y1="246.50" x2="339.80" y2="246.50" stroke="#a8a8a8" stroke-width="1"/>
<line x1="35.50" y1="447.50" x2="339.30" y2="447.50" stroke="#a8a8a8" stroke-width="1"/>
<line x1="35.50" y1="246.00" x2="35.50" y2="448.00" stroke="#9c9c9c" stroke-width="1"/>
<line x1="339.30" y1="247.00" x2="339.30" y2="448.00" stroke="#8a8a8a" stroke-width="1"/>
<line x1="32.70" y1="447.50" x2="35.50" y2="447.50" stroke="#707070" stroke-width="1"/>
<text x="28.80" y="449.80" font-size="8.40" fill="#3a3a3a" text-anchor="end" font-weight="normal">0</text>
<line x1="32.70" y1="422.50" x2="35.50" y2="422.50" stroke="#707070" stroke-width="1"/>
<text x="28.80" y="424.68" font-size="8.40" fill="#3a3a3a" text-anchor="end" font-weight="normal" textLength="9.50" lengthAdjust="spacingAndGlyphs">0.2</text>
<line x1="32.70" y1="397.50" x2="35.50" y2="397.50" stroke="#707070" stroke-width="1"/>
<text x="28.80" y="399.56" font-size="8.40" fill="#3a3a3a" text-anchor="end" font-weight="normal" textLength="9.50" lengthAdjust="spacingAndGlyphs">0.4</text>
<line x1="32.70" y1="371.50" x2="35.50" y2="371.50" stroke="#707070" stroke-width="1"/>
<text x="28.80" y="374.44" font-size="8.40" fill="#3a3a3a" text-anchor="end" font-weight="normal" textLength="9.50" lengthAdjust="spacingAndGlyphs">0.6</text>
<line x1="32.70" y1="346.50" x2="35.50" y2="346.50" stroke="#707070" stroke-width="1"/>
<text x="28.80" y="349.32" font-size="8.40" fill="#3a3a3a" text-anchor="end" font-weight="normal" textLength="9.50" lengthAdjust="spacingAndGlyphs">0.8</text>
<line x1="32.70" y1="321.50" x2="35.50" y2="321.50" stroke="#707070" stroke-width="1"/>
<text x="28.80" y="324.20" font-size="8.40" fill="#3a3a3a" text-anchor="end" font-weight="normal" textLength="9.50" lengthAdjust="spacingAndGlyphs">1.0</text>
<line x1="32.70" y1="296.50" x2="35.50" y2="296.50" stroke="#707070" stroke-width="1"/>
<text x="28.80" y="299.08" font-size="8.40" fill="#3a3a3a" text-anchor="end" font-weight="normal" textLength="9.50" lengthAdjust="spacingAndGlyphs">1.2</text>
<line x1="32.70" y1="271.50" x2="35.50" y2="271.50" stroke="#707070" stroke-width="1"/>
<text x="28.80" y="273.96" font-size="8.40" fill="#3a3a3a" text-anchor="end" font-weight="normal" textLength="9.50" lengthAdjust="spacingAndGlyphs">1.4</text>
<line x1="32.70" y1="246.50" x2="35.50" y2="246.50" stroke="#707070" stroke-width="1"/>
<text x="28.80" y="248.84" font-size="8.40" fill="#3a3a3a" text-anchor="end" font-weight="normal" textLength="9.50" lengthAdjust="spacingAndGlyphs">1.6</text>
<line x1="35.50" y1="447.50" x2="35.50" y2="450.70" stroke="#707070" stroke-width="1"/>
<text x="35.50" y="460.00" font-size="8.40" fill="#3a3a3a" text-anchor="middle" font-weight="normal">0</text>
<line x1="86.50" y1="447.50" x2="86.50" y2="450.70" stroke="#707070" stroke-width="1"/>
<text x="86.13" y="460.00" font-size="8.40" fill="#3a3a3a" text-anchor="middle" font-weight="normal">1</text>
<line x1="136.50" y1="447.50" x2="136.50" y2="450.70" stroke="#707070" stroke-width="1"/>
<text x="136.76" y="460.00" font-size="8.40" fill="#3a3a3a" text-anchor="middle" font-weight="normal">2</text>
<line x1="187.50" y1="447.50" x2="187.50" y2="450.70" stroke="#707070" stroke-width="1"/>
<text x="187.39" y="460.00" font-size="8.40" fill="#3a3a3a" text-anchor="middle" font-weight="normal">3</text>
<line x1="238.50" y1="447.50" x2="238.50" y2="450.70" stroke="#707070" stroke-width="1"/>
<text x="238.02" y="460.00" font-size="8.40" fill="#3a3a3a" text-anchor="middle" font-weight="normal">4</text>
<line x1="288.50" y1="447.50" x2="288.50" y2="450.70" stroke="#707070" stroke-width="1"/>
<text x="288.65" y="460.00" font-size="8.40" fill="#3a3a3a" text-anchor="middle" font-weight="normal">5</text>
<line x1="339.50" y1="447.50" x2="339.50" y2="450.70" stroke="#707070" stroke-width="1"/>
<text x="339.28" y="460.00" font-size="8.40" fill="#3a3a3a" text-anchor="middle" font-weight="normal">6</text>
<path d="M35.90,443.50C36.68,442.30 38.82,438.22 40.60,436.30C42.38,434.38 44.78,432.22 46.60,432.00C48.42,431.78 50.08,433.90 51.50,435.00C52.92,436.10 53.88,438.90 55.10,438.60C56.32,438.30 57.58,436.13 58.80,433.20C60.02,430.27 61.18,424.65 62.40,421.00C63.62,417.35 64.88,413.52 66.10,411.30C67.32,409.08 68.60,408.50 69.70,407.70C70.80,406.90 71.68,407.32 72.70,406.50C73.72,405.68 74.88,404.42 75.80,402.80C76.72,401.18 77.45,399.07 78.20,396.80C78.95,394.53 79.55,392.38 80.30,389.20C81.05,386.02 81.92,380.87 82.70,377.70C83.48,374.53 84.23,372.05 85.00,370.20C85.77,368.35 86.47,367.15 87.30,366.60C88.13,366.05 89.15,366.63 90.00,366.90C90.85,367.17 91.67,367.87 92.40,368.20C93.13,368.53 93.73,369.42 94.40,368.90C95.07,368.38 95.77,367.07 96.40,365.10C97.03,363.13 97.57,360.85 98.20,357.10C98.83,353.35 99.57,347.02 100.20,342.60C100.83,338.18 101.17,337.47 102.00,330.60C102.83,323.73 104.27,308.58 105.20,301.40C106.13,294.22 106.73,290.98 107.60,287.50C108.47,284.02 109.50,280.50 110.40,280.50C111.30,280.50 112.03,284.02 113.00,287.50C113.97,290.98 114.98,293.85 116.20,301.40C117.42,308.95 119.00,322.70 120.30,332.80C121.60,342.90 122.82,352.97 124.00,362.00C125.18,371.03 126.38,380.50 127.40,387.00C128.42,393.50 129.15,397.03 130.10,401.00C131.05,404.97 131.87,407.97 133.10,410.80C134.33,413.63 135.38,417.27 137.50,418.00C139.62,418.73 143.20,414.73 145.80,415.20C148.40,415.67 151.27,419.42 153.10,420.80C154.93,422.18 154.95,423.65 156.80,423.50C158.65,423.35 161.43,419.73 164.20,419.90C166.97,420.07 170.33,424.67 173.40,424.50C176.47,424.33 179.53,418.75 182.60,418.90C185.67,419.05 188.73,424.02 191.80,425.40C194.87,426.78 198.23,425.82 201.00,427.20C203.77,428.58 205.93,431.08 208.40,433.70C210.87,436.32 213.78,441.15 215.80,442.90C217.82,444.65 218.50,444.58 220.50,444.20C222.50,443.82 225.07,442.27 227.80,440.60C230.53,438.93 234.17,434.67 236.90,434.20C239.63,433.73 241.77,436.43 244.20,437.80C246.63,439.17 249.07,442.23 251.50,442.40C253.93,442.57 256.37,438.65 258.80,438.80C261.23,438.95 263.07,442.55 266.10,443.30C269.13,444.05 273.35,443.75 277.00,443.30C280.65,442.85 284.65,441.52 288.00,440.60C291.35,439.68 294.07,437.65 297.10,437.80C300.13,437.95 303.47,440.73 306.20,441.50C308.93,442.27 310.75,442.55 313.50,442.40C316.25,442.25 319.65,440.60 322.70,440.60C325.75,440.60 329.03,442.10 331.80,442.40C334.57,442.70 338.05,442.40 339.30,442.40" fill="none" stroke="#3c3c3c" stroke-width="1.35" stroke-linejoin="round" stroke-linecap="round" clip-path="url(#clipc)"/>
<path d="M35.40,442.80C36.18,441.60 38.32,437.52 40.10,435.60C41.88,433.68 44.28,431.52 46.10,431.30C47.92,431.08 49.58,433.20 51.00,434.30C52.42,435.40 53.38,438.20 54.60,437.90C55.82,437.60 57.08,435.43 58.30,432.50C59.52,429.57 60.68,423.95 61.90,420.30C63.12,416.65 64.38,412.82 65.60,410.60C66.82,408.38 68.10,407.80 69.20,407.00C70.30,406.20 71.18,406.62 72.20,405.80C73.22,404.98 74.38,403.72 75.30,402.10C76.22,400.48 76.95,398.37 77.70,396.10C78.45,393.83 79.05,391.68 79.80,388.50C80.55,385.32 81.42,380.17 82.20,377.00C82.98,373.83 83.73,371.35 84.50,369.50C85.27,367.65 85.97,366.45 86.80,365.90C87.63,365.35 88.68,365.60 89.50,366.20C90.32,366.80 91.03,368.10 91.70,369.50C92.37,370.90 92.87,374.10 93.50,374.60C94.13,375.10 94.83,374.27 95.50,372.50C96.17,370.73 96.83,367.75 97.50,364.00C98.17,360.25 98.83,355.33 99.50,350.00C100.17,344.67 100.55,340.25 101.50,332.00C102.45,323.75 104.15,308.50 105.20,300.50C106.25,292.50 106.90,287.80 107.80,284.00C108.70,280.20 109.68,277.70 110.60,277.70C111.52,277.70 112.35,280.20 113.30,284.00C114.25,287.80 115.12,292.50 116.30,300.50C117.48,308.50 119.12,321.75 120.40,332.00C121.68,342.25 122.82,352.83 124.00,362.00C125.18,371.17 126.47,380.50 127.50,387.00C128.53,393.50 129.25,397.08 130.20,401.00C131.15,404.92 131.98,407.97 133.20,410.50C134.42,413.03 135.72,415.57 137.50,416.20C139.28,416.83 141.90,414.00 143.90,414.30C145.90,414.60 147.50,416.47 149.50,418.00C151.50,419.53 154.07,423.35 155.90,423.50C157.73,423.65 158.82,420.28 160.50,418.90C162.18,417.52 163.55,415.03 166.00,415.20C168.45,415.37 172.43,419.33 175.20,419.90C177.97,420.47 180.13,417.83 182.60,418.60C185.07,419.37 187.55,423.07 190.00,424.50C192.45,425.93 194.85,426.13 197.30,427.20C199.75,428.27 202.23,428.90 204.70,430.90C207.17,432.90 210.38,437.43 212.10,439.20C213.82,440.97 213.30,440.82 215.00,441.50C216.70,442.18 219.87,443.92 222.30,443.30C224.73,442.68 227.17,439.47 229.60,437.80C232.03,436.13 234.77,433.75 236.90,433.30C239.03,432.85 240.27,433.73 242.40,435.10C244.53,436.47 247.27,440.28 249.70,441.50C252.13,442.72 254.27,442.40 257.00,442.40C259.73,442.40 263.07,441.35 266.10,441.50C269.13,441.65 271.55,443.45 275.20,443.30C278.85,443.15 284.05,441.35 288.00,440.60C291.95,439.85 295.87,438.65 298.90,438.80C301.93,438.95 303.77,441.05 306.20,441.50C308.63,441.95 311.07,441.50 313.50,441.50C315.93,441.50 318.37,440.90 320.80,441.50C323.23,442.10 325.67,444.80 328.10,445.10C330.53,445.40 333.53,443.90 335.40,443.30C337.27,442.70 338.65,441.80 339.30,441.50" fill="none" stroke="#ef3344" stroke-width="1.35" stroke-linejoin="round" stroke-linecap="round" clip-path="url(#clipc)"/>
<path d="M35.70,443.20C36.48,442.00 38.62,437.92 40.40,436.00C42.18,434.08 44.58,431.92 46.40,431.70C48.22,431.48 49.88,433.60 51.30,434.70C52.72,435.80 53.68,438.60 54.90,438.30C56.12,438.00 57.38,435.83 58.60,432.90C59.82,429.97 60.98,424.35 62.20,420.70C63.42,417.05 64.68,413.22 65.90,411.00C67.12,408.78 68.40,408.20 69.50,407.40C70.60,406.60 71.48,407.02 72.50,406.20C73.52,405.38 74.68,404.12 75.60,402.50C76.52,400.88 77.25,398.77 78.00,396.50C78.75,394.23 79.35,392.08 80.10,388.90C80.85,385.72 81.72,380.57 82.50,377.40C83.28,374.23 84.03,371.75 84.80,369.90C85.57,368.05 86.27,366.85 87.10,366.30C87.93,365.75 88.93,366.33 89.80,366.60C90.67,366.87 91.55,367.57 92.30,367.90C93.05,368.23 93.63,369.12 94.30,368.60C94.97,368.08 95.67,366.77 96.30,364.80C96.93,362.83 97.47,360.55 98.10,356.80C98.73,353.05 99.47,346.72 100.10,342.30C100.73,337.88 101.07,337.12 101.90,330.30C102.73,323.48 104.17,308.53 105.10,301.40C106.03,294.27 106.67,290.90 107.50,287.50C108.33,284.10 109.22,281.00 110.10,281.00C110.98,281.00 111.80,284.10 112.80,287.50C113.80,290.90 114.87,293.85 116.10,301.40C117.33,308.95 118.90,322.70 120.20,332.80C121.50,342.90 122.70,352.97 123.90,362.00C125.10,371.03 126.37,380.50 127.40,387.00C128.43,393.50 129.17,397.08 130.10,401.00C131.03,404.92 131.97,407.83 133.00,410.50C134.03,413.17 135.38,415.33 136.30,417.00C137.22,418.67 137.68,420.80 138.50,420.50C139.32,420.20 139.98,416.38 141.20,415.20C142.42,414.02 144.27,412.93 145.80,413.40C147.33,413.87 148.87,416.15 150.40,418.00C151.93,419.85 153.47,424.03 155.00,424.50C156.53,424.97 157.77,422.65 159.60,420.80C161.43,418.95 164.00,414.33 166.00,413.40C168.00,412.47 170.07,414.28 171.60,415.20C173.13,416.12 173.37,418.90 175.20,418.90C177.03,418.90 180.45,414.88 182.60,415.20C184.75,415.52 186.25,418.95 188.10,420.80C189.95,422.65 191.55,425.08 193.70,426.30C195.85,427.52 198.85,426.87 201.00,428.10C203.15,429.33 204.75,431.08 206.60,433.70C208.45,436.32 210.57,442.58 212.10,443.80C213.63,445.02 214.40,441.38 215.80,441.00C217.20,440.62 218.80,441.27 220.50,441.50C222.20,441.73 224.18,443.62 226.00,442.40C227.82,441.18 229.58,436.42 231.40,434.20C233.22,431.98 235.07,429.40 236.90,429.10C238.73,428.80 240.58,430.48 242.40,432.40C244.22,434.32 245.68,438.63 247.80,440.60C249.92,442.57 252.67,443.60 255.10,444.20C257.53,444.80 259.97,445.27 262.40,444.20C264.83,443.13 266.95,439.02 269.70,437.80C272.45,436.58 275.85,437.50 278.90,436.90C281.95,436.30 284.97,434.95 288.00,434.20C291.03,433.45 294.37,432.10 297.10,432.40C299.83,432.70 302.27,434.03 304.40,436.00C306.53,437.97 308.07,443.28 309.90,444.20C311.73,445.12 313.27,442.40 315.40,441.50C317.53,440.60 319.97,438.95 322.70,438.80C325.43,438.65 329.03,440.60 331.80,440.60C334.57,440.60 338.05,439.10 339.30,438.80" fill="none" stroke="#4b9ad6" stroke-width="1.35" stroke-linejoin="round" stroke-linecap="round" clip-path="url(#clipc)"/>
<path d="M36.20,443.90C36.98,442.70 39.12,438.62 40.90,436.70C42.68,434.78 45.08,432.62 46.90,432.40C48.72,432.18 50.38,434.30 51.80,435.40C53.22,436.50 54.18,439.30 55.40,439.00C56.62,438.70 57.88,436.53 59.10,433.60C60.32,430.67 61.48,425.05 62.70,421.40C63.92,417.75 65.18,413.92 66.40,411.70C67.62,409.48 68.90,408.90 70.00,408.10C71.10,407.30 71.98,407.72 73.00,406.90C74.02,406.08 75.18,404.82 76.10,403.20C77.02,401.58 77.75,399.47 78.50,397.20C79.25,394.93 79.85,392.78 80.60,389.60C81.35,386.42 82.22,381.27 83.00,378.10C83.78,374.93 84.53,372.45 85.30,370.60C86.07,368.75 86.77,367.55 87.60,367.00C88.43,366.45 89.47,367.03 90.30,367.30C91.13,367.57 91.88,368.27 92.60,368.60C93.32,368.93 93.93,369.82 94.60,369.30C95.27,368.78 95.97,367.47 96.60,365.50C97.23,363.53 97.77,361.25 98.40,357.50C99.03,353.75 99.77,347.42 100.40,343.00C101.03,338.58 101.35,337.67 102.20,331.00C103.05,324.33 104.53,309.17 105.50,303.00C106.47,296.83 107.18,296.03 108.00,294.00C108.82,291.97 109.60,290.80 110.40,290.80C111.20,290.80 111.90,291.97 112.80,294.00C113.70,296.03 114.62,296.53 115.80,303.00C116.98,309.47 118.58,322.97 119.90,332.80C121.22,342.63 122.48,352.92 123.70,362.00C124.92,371.08 126.15,380.75 127.20,387.30C128.25,393.85 129.03,397.35 130.00,401.30C130.97,405.25 131.75,408.07 133.00,411.00C134.25,413.93 135.07,417.82 137.50,418.90C139.93,419.98 144.38,417.18 147.60,417.50C150.82,417.82 153.73,419.95 156.80,420.80C159.87,421.65 162.93,421.22 166.00,422.60C169.07,423.98 172.12,429.10 175.20,429.10C178.28,429.10 181.42,422.92 184.50,422.60C187.58,422.28 190.95,425.82 193.70,427.20C196.45,428.58 198.55,429.52 201.00,430.90C203.45,432.28 205.93,433.97 208.40,435.50C210.87,437.03 213.48,439.10 215.80,440.10C218.12,441.10 220.00,441.88 222.30,441.50C224.60,441.12 227.17,438.72 229.60,437.80C232.03,436.88 234.47,435.83 236.90,436.00C239.33,436.17 241.47,438.33 244.20,438.80C246.93,439.27 250.27,438.20 253.30,438.80C256.33,439.40 259.05,441.65 262.40,442.40C265.75,443.15 269.75,443.30 273.40,443.30C277.05,443.30 280.95,442.85 284.30,442.40C287.65,441.95 290.45,440.60 293.50,440.60C296.55,440.60 299.87,441.48 302.60,442.40C305.33,443.32 307.47,446.10 309.90,446.10C312.33,446.10 314.47,442.87 317.20,442.40C319.93,441.93 323.27,443.00 326.30,443.30C329.33,443.60 333.23,444.20 335.40,444.20C337.57,444.20 338.65,443.45 339.30,443.30" fill="none" stroke="#5cc85c" stroke-width="1.35" stroke-linejoin="round" stroke-linecap="round" clip-path="url(#clipc)"/>
<path d="M36.50,444.30C37.28,443.10 39.42,439.02 41.20,437.10C42.98,435.18 45.38,433.02 47.20,432.80C49.02,432.58 50.68,434.70 52.10,435.80C53.52,436.90 54.48,439.70 55.70,439.40C56.92,439.10 58.18,436.93 59.40,434.00C60.62,431.07 61.78,425.45 63.00,421.80C64.22,418.15 65.48,414.32 66.70,412.10C67.92,409.88 69.20,409.30 70.30,408.50C71.40,407.70 72.28,408.12 73.30,407.30C74.32,406.48 75.48,405.22 76.40,403.60C77.32,401.98 78.05,399.87 78.80,397.60C79.55,395.33 80.15,393.18 80.90,390.00C81.65,386.82 82.52,381.67 83.30,378.50C84.08,375.33 84.83,372.85 85.60,371.00C86.37,369.15 87.07,367.95 87.90,367.40C88.73,366.85 89.77,367.42 90.60,367.70C91.43,367.98 92.18,368.75 92.90,369.10C93.62,369.45 94.23,370.32 94.90,369.80C95.57,369.28 96.27,367.97 96.90,366.00C97.53,364.03 98.07,361.75 98.70,358.00C99.33,354.25 100.07,347.92 100.70,343.50C101.33,339.08 101.68,337.75 102.50,331.50C103.32,325.25 104.68,311.50 105.60,306.00C106.52,300.50 107.23,300.17 108.00,298.50C108.77,296.83 109.45,296.00 110.20,296.00C110.95,296.00 111.62,296.83 112.50,298.50C113.38,300.17 114.32,300.28 115.50,306.00C116.68,311.72 118.27,323.47 119.60,332.80C120.93,342.13 122.27,352.88 123.50,362.00C124.73,371.12 125.95,380.92 127.00,387.50C128.05,394.08 128.82,397.50 129.80,401.50C130.78,405.50 131.62,408.43 132.90,411.50C134.18,414.57 135.97,418.20 137.50,419.90C139.03,421.60 140.10,422.02 142.10,421.70C144.10,421.38 147.05,417.53 149.50,418.00C151.95,418.47 154.05,423.27 156.80,424.50C159.55,425.73 162.93,424.48 166.00,425.40C169.07,426.32 172.12,430.15 175.20,430.00C178.28,429.85 181.42,425.12 184.50,424.50C187.58,423.88 190.95,425.38 193.70,426.30C196.45,427.22 198.55,428.47 201.00,430.00C203.45,431.53 205.93,433.97 208.40,435.50C210.87,437.03 213.48,438.20 215.80,439.20C218.12,440.20 220.30,440.82 222.30,441.50C224.30,442.18 225.37,444.22 227.80,443.30C230.23,442.38 234.47,436.92 236.90,436.00C239.33,435.08 240.58,436.73 242.40,437.80C244.22,438.87 245.98,441.02 247.80,442.40C249.62,443.78 251.17,445.95 253.30,446.10C255.43,446.25 257.87,443.47 260.60,443.30C263.33,443.13 266.65,445.10 269.70,445.10C272.75,445.10 275.85,443.50 278.90,443.30C281.95,443.10 284.67,443.80 288.00,443.90C291.33,444.00 295.25,443.90 298.90,443.90C302.55,443.90 306.55,443.90 309.90,443.90C313.25,443.90 315.97,443.70 319.00,443.90C322.03,444.10 325.37,444.95 328.10,445.10C330.83,445.25 333.53,444.95 335.40,444.80C337.27,444.65 338.65,444.30 339.30,444.20" fill="none" stroke="#f39020" stroke-width="1.35" stroke-linejoin="round" stroke-linecap="round" clip-path="url(#clipc)"/>
<line x1="231.40" y1="257.10" x2="238.90" y2="257.10" stroke="#555555" stroke-width="1.4"/>
<text x="243.80" y="260.90" font-size="9.40" fill="#222222" text-anchor="start" font-weight="normal" textLength="80.20" lengthAdjust="spacingAndGlyphs">2Cu2Zn prereduced</text>
<line x1="231.40" y1="269.95" x2="238.90" y2="269.95" stroke="#ef4455" stroke-width="1.4"/>
<text x="243.80" y="273.53" font-size="9.40" fill="#222222" text-anchor="start" font-weight="normal" textLength="66.90" lengthAdjust="spacingAndGlyphs">2Cu2Zn reduced</text>
<line x1="231.40" y1="282.80" x2="238.90" y2="282.80" stroke="#5aa0d8" stroke-width="1.4"/>
<text x="243.80" y="286.16" font-size="9.40" fill="#222222" text-anchor="start" font-weight="normal" textLength="74.80" lengthAdjust="spacingAndGlyphs">2Cu2Zn no plasma</text>
<line x1="231.40" y1="295.65" x2="238.90" y2="295.65" stroke="#5cc85c" stroke-width="1.4"/>
<text x="243.80" y="298.79" font-size="9.40" fill="#222222" text-anchor="start" font-weight="normal" textLength="54.90" lengthAdjust="spacingAndGlyphs">2Cu2Zn 10 kV</text>
<line x1="231.40" y1="308.50" x2="238.90" y2="308.50" stroke="#f39020" stroke-width="1.4"/>
<text x="243.80" y="311.42" font-size="9.40" fill="#222222" text-anchor="start" font-weight="normal" textLength="51.90" lengthAdjust="spacingAndGlyphs">2Cu2Zn 11 kV</text>
<text x="40.80" y="261.80" font-size="9.40" fill="#222222" text-anchor="start" font-weight="normal" textLength="30.70" lengthAdjust="spacingAndGlyphs">2Cu2Zn</text>
<text x="40.80" y="275.80" font-size="9.40" fill="#222222" text-anchor="start" font-weight="normal" textLength="32.40" lengthAdjust="spacingAndGlyphs">Zn edge</text>
<text x="150.10" y="476.50" font-size="9.40" fill="#222222" text-anchor="start" font-weight="normal" textLength="75.40" lengthAdjust="spacingAndGlyphs">Radial distance (&#197;)</text>
<text transform="translate(9.50,347.75) rotate(-90)" font-size="9.30" fill="#222222" text-anchor="middle" textLength="40.00" lengthAdjust="spacingAndGlyphs">|&#967;(<tspan font-style="italic">R</tspan>)| (&#197;<tspan font-size="6.51" dy="-3">&#8722;3</tspan><tspan dy="3">)</tspan></text>
<text x="0.50" y="253.00" font-size="13.00" fill="#000" text-anchor="start" font-weight="bold" stroke="#000" stroke-width="0.5">c</text>
<clipPath id="clipd"><rect x="387.50" y="246.50" width="295.55" height="195.00"/></clipPath>
<line x1="387.50" y1="246.50" x2="683.55" y2="246.50" stroke="#a8a8a8" stroke-width="1"/>
<line x1="387.50" y1="441.50" x2="683.05" y2="441.50" stroke="#a8a8a8" stroke-width="1"/>
<line x1="387.50" y1="246.00" x2="387.50" y2="442.00" stroke="#9c9c9c" stroke-width="1"/>
<line x1="683.05" y1="247.00" x2="683.05" y2="442.00" stroke="#8a8a8a" stroke-width="1"/>
<line x1="384.70" y1="441.50" x2="387.50" y2="441.50" stroke="#707070" stroke-width="1"/>
<text x="381.20" y="443.90" font-size="8.40" fill="#3a3a3a" text-anchor="end" font-weight="normal">0</text>
<line x1="384.70" y1="417.50" x2="387.50" y2="417.50" stroke="#707070" stroke-width="1"/>
<text x="381.20" y="419.52" font-size="8.40" fill="#3a3a3a" text-anchor="end" font-weight="normal" textLength="9.50" lengthAdjust="spacingAndGlyphs">0.2</text>
<line x1="384.70" y1="392.50" x2="387.50" y2="392.50" stroke="#707070" stroke-width="1"/>
<text x="381.20" y="395.14" font-size="8.40" fill="#3a3a3a" text-anchor="end" font-weight="normal" textLength="9.50" lengthAdjust="spacingAndGlyphs">0.4</text>
<line x1="384.70" y1="368.50" x2="387.50" y2="368.50" stroke="#707070" stroke-width="1"/>
<text x="381.20" y="370.76" font-size="8.40" fill="#3a3a3a" text-anchor="end" font-weight="normal" textLength="9.50" lengthAdjust="spacingAndGlyphs">0.6</text>
<line x1="384.70" y1="343.50" x2="387.50" y2="343.50" stroke="#707070" stroke-width="1"/>
<text x="381.20" y="346.38" font-size="8.40" fill="#3a3a3a" text-anchor="end" font-weight="normal" textLength="9.50" lengthAdjust="spacingAndGlyphs">0.8</text>
<line x1="384.70" y1="319.50" x2="387.50" y2="319.50" stroke="#707070" stroke-width="1"/>
<text x="381.20" y="322.00" font-size="8.40" fill="#3a3a3a" text-anchor="end" font-weight="normal" textLength="9.50" lengthAdjust="spacingAndGlyphs">1.0</text>
<line x1="384.70" y1="295.50" x2="387.50" y2="295.50" stroke="#707070" stroke-width="1"/>
<text x="381.20" y="297.62" font-size="8.40" fill="#3a3a3a" text-anchor="end" font-weight="normal" textLength="9.50" lengthAdjust="spacingAndGlyphs">1.2</text>
<line x1="384.70" y1="270.50" x2="387.50" y2="270.50" stroke="#707070" stroke-width="1"/>
<text x="381.20" y="273.24" font-size="8.40" fill="#3a3a3a" text-anchor="end" font-weight="normal" textLength="9.50" lengthAdjust="spacingAndGlyphs">1.4</text>
<line x1="384.70" y1="246.50" x2="387.50" y2="246.50" stroke="#707070" stroke-width="1"/>
<text x="381.20" y="248.86" font-size="8.40" fill="#3a3a3a" text-anchor="end" font-weight="normal" textLength="9.50" lengthAdjust="spacingAndGlyphs">1.6</text>
<line x1="387.50" y1="441.50" x2="387.50" y2="444.70" stroke="#707070" stroke-width="1"/>
<text x="387.50" y="454.80" font-size="8.40" fill="#3a3a3a" text-anchor="middle" font-weight="normal">0</text>
<line x1="436.50" y1="441.50" x2="436.50" y2="444.70" stroke="#707070" stroke-width="1"/>
<text x="436.73" y="454.80" font-size="8.40" fill="#3a3a3a" text-anchor="middle" font-weight="normal">1</text>
<line x1="485.50" y1="441.50" x2="485.50" y2="444.70" stroke="#707070" stroke-width="1"/>
<text x="485.96" y="454.80" font-size="8.40" fill="#3a3a3a" text-anchor="middle" font-weight="normal">2</text>
<line x1="535.50" y1="441.50" x2="535.50" y2="444.70" stroke="#707070" stroke-width="1"/>
<text x="535.19" y="454.80" font-size="8.40" fill="#3a3a3a" text-anchor="middle" font-weight="normal">3</text>
<line x1="584.50" y1="441.50" x2="584.50" y2="444.70" stroke="#707070" stroke-width="1"/>
<text x="584.42" y="454.80" font-size="8.40" fill="#3a3a3a" text-anchor="middle" font-weight="normal">4</text>
<line x1="633.50" y1="441.50" x2="633.50" y2="444.70" stroke="#707070" stroke-width="1"/>
<text x="633.65" y="454.80" font-size="8.40" fill="#3a3a3a" text-anchor="middle" font-weight="normal">5</text>
<line x1="682.50" y1="441.50" x2="682.50" y2="444.70" stroke="#707070" stroke-width="1"/>
<text x="682.88" y="454.80" font-size="8.40" fill="#3a3a3a" text-anchor="middle" font-weight="normal">6</text>
<path d="M387.20,436.20C387.98,435.27 390.15,431.97 391.90,430.60C393.65,429.23 395.93,428.20 397.70,428.00C399.47,427.80 401.20,428.63 402.50,429.40C403.80,430.17 404.32,433.12 405.50,432.60C406.68,432.08 408.02,430.07 409.60,426.30C411.18,422.53 413.12,414.13 415.00,410.00C416.88,405.87 419.08,404.25 420.90,401.50C422.72,398.75 424.33,396.83 425.90,393.50C427.47,390.17 428.97,385.58 430.30,381.50C431.63,377.42 432.63,371.97 433.90,369.00C435.17,366.03 436.72,364.90 437.90,363.70C439.08,362.50 439.85,362.85 441.00,361.80C442.15,360.75 443.65,359.60 444.80,357.40C445.95,355.20 446.95,351.61 447.90,348.60C448.85,345.59 449.73,343.44 450.50,339.36C451.27,335.27 451.83,329.07 452.50,324.06C453.17,319.06 453.83,313.91 454.50,309.32C455.17,304.73 455.83,300.24 456.50,296.53C457.17,292.83 457.83,289.49 458.50,287.08C459.17,284.66 459.83,282.86 460.50,282.04C461.17,281.23 461.83,281.14 462.50,282.20C463.17,283.26 463.83,285.45 464.50,288.40C465.17,291.35 465.83,295.45 466.50,299.88C467.17,304.32 467.83,309.69 468.50,315.03C469.17,320.37 469.83,326.30 470.50,331.90C471.17,337.50 471.70,342.95 472.50,348.63C473.30,354.31 474.65,360.10 475.30,366.00C475.95,371.90 476.03,378.83 476.40,384.00C476.77,389.17 476.70,392.85 477.50,397.00C478.30,401.15 479.77,406.25 481.20,408.90C482.63,411.55 484.22,412.10 486.10,412.90C487.98,413.70 490.63,413.57 492.50,413.70C494.37,413.83 495.70,414.10 497.30,413.70C498.90,413.30 500.50,411.97 502.10,411.30C503.70,410.63 505.02,409.57 506.90,409.70C508.78,409.83 511.25,410.22 513.40,412.10C515.55,413.98 517.40,418.45 519.80,421.00C522.20,423.55 525.40,427.00 527.80,427.40C530.20,427.80 532.05,424.62 534.20,423.40C536.35,422.18 538.82,420.23 540.70,420.10C542.58,419.97 543.90,421.25 545.50,422.60C547.10,423.95 548.43,426.20 550.30,428.20C552.17,430.20 554.57,433.13 556.70,434.60C558.83,436.07 560.95,436.20 563.10,437.00C565.25,437.80 567.62,439.52 569.60,439.40C571.58,439.28 573.30,437.35 575.00,436.30C576.70,435.25 578.07,433.98 579.80,433.10C581.53,432.22 583.52,431.00 585.40,431.00C587.28,431.00 589.08,432.22 591.10,433.10C593.12,433.98 595.37,435.37 597.50,436.30C599.63,437.23 602.03,438.03 603.90,438.70C605.77,439.37 606.83,440.30 608.70,440.30C610.57,440.30 612.68,439.23 615.10,438.70C617.52,438.17 620.25,437.50 623.20,437.10C626.15,436.70 629.60,436.57 632.80,436.30C636.00,436.03 639.18,435.90 642.40,435.50C645.62,435.10 648.88,433.90 652.10,433.90C655.32,433.90 658.48,434.97 661.70,435.50C664.92,436.03 668.72,436.70 671.40,437.10C674.08,437.50 675.88,437.63 677.80,437.90C679.72,438.17 682.05,438.57 682.90,438.70" fill="none" stroke="#151515" stroke-width="1.20" stroke-linejoin="round" stroke-linecap="round" clip-path="url(#clipd)"/>
<path d="M387.20,436.00C387.98,435.07 390.15,431.77 391.90,430.40C393.65,429.03 395.93,428.00 397.70,427.80C399.47,427.60 401.20,428.43 402.50,429.20C403.80,429.97 404.32,432.92 405.50,432.40C406.68,431.88 407.78,429.53 409.60,426.10C411.42,422.67 414.28,415.60 416.40,411.80C418.52,408.00 420.48,406.05 422.30,403.30C424.12,400.55 425.73,398.63 427.30,395.30C428.87,391.97 430.37,387.38 431.70,383.30C433.03,379.22 434.37,374.28 435.30,370.80C436.23,367.32 436.55,364.42 437.30,362.40C438.05,360.38 438.77,360.37 439.80,358.70C440.83,357.03 442.32,353.59 443.50,352.40C444.68,351.21 446.00,353.66 446.90,351.56C447.80,349.46 448.23,343.80 448.90,339.80C449.57,335.79 450.23,331.60 450.90,327.53C451.57,323.46 452.23,319.30 452.90,315.38C453.57,311.46 454.23,307.56 454.90,304.03C455.57,300.50 456.23,297.12 456.90,294.22C457.57,291.32 458.23,288.70 458.90,286.64C459.57,284.57 460.23,282.91 460.90,281.84C461.57,280.77 462.23,279.92 462.90,280.20C463.57,280.48 464.23,281.40 464.90,283.53C465.57,285.67 466.23,289.07 466.90,293.02C467.57,296.96 468.23,302.02 468.90,307.20C469.57,312.38 470.23,318.37 470.90,324.10C471.57,329.84 472.23,335.98 472.90,341.62C473.57,347.27 474.25,353.25 474.90,357.98C475.55,362.71 476.35,366.00 476.80,370.00C477.25,374.00 477.32,377.33 477.60,382.00C477.88,386.67 478.10,393.83 478.50,398.00C478.90,402.17 479.48,404.92 480.00,407.00C480.52,409.08 480.85,410.72 481.60,410.50C482.35,410.28 483.35,407.57 484.50,405.70C485.65,403.83 487.17,399.30 488.50,399.30C489.83,399.30 491.30,402.50 492.50,405.70C493.70,408.90 494.68,414.88 495.70,418.50C496.72,422.12 497.53,427.40 498.60,427.40C499.67,427.40 500.98,421.58 502.10,418.50C503.22,415.42 504.23,410.98 505.30,408.90C506.37,406.82 507.42,405.87 508.50,406.00C509.58,406.13 510.45,407.35 511.80,409.70C513.15,412.05 515.00,417.02 516.60,420.10C518.20,423.18 519.80,426.85 521.40,428.20C523.00,429.55 524.60,429.55 526.20,428.20C527.80,426.85 529.40,422.65 531.00,420.10C532.60,417.55 534.32,414.37 535.80,412.90C537.28,411.43 538.55,411.03 539.90,411.30C541.25,411.57 542.43,411.68 543.90,414.50C545.37,417.32 547.10,424.58 548.70,428.20C550.30,431.82 551.90,435.53 553.50,436.20C555.10,436.87 556.70,432.87 558.30,432.20C559.90,431.53 561.48,431.40 563.10,432.20C564.72,433.00 566.38,437.27 568.00,437.00C569.62,436.73 571.33,432.20 572.80,430.60C574.27,429.00 575.60,427.75 576.80,427.40C578.00,427.05 578.70,427.28 580.00,428.50C581.30,429.72 583.02,433.80 584.60,434.70C586.18,435.60 587.62,434.97 589.50,433.90C591.38,432.83 594.03,428.83 595.90,428.30C597.77,427.77 598.97,429.50 600.70,430.70C602.43,431.90 604.70,435.23 606.30,435.50C607.90,435.77 608.83,433.23 610.30,432.30C611.77,431.37 613.48,430.03 615.10,429.90C616.72,429.77 618.38,431.10 620.00,431.50C621.62,431.90 623.20,432.43 624.80,432.30C626.40,432.17 627.73,431.28 629.60,430.70C631.47,430.12 633.87,428.85 636.00,428.80C638.13,428.75 640.25,429.68 642.40,430.40C644.55,431.12 646.75,431.98 648.90,433.10C651.05,434.22 653.17,436.17 655.30,437.10C657.43,438.03 659.02,438.30 661.70,438.70C664.38,439.10 668.72,439.37 671.40,439.50C674.08,439.63 675.88,439.37 677.80,439.50C679.72,439.63 682.05,440.17 682.90,440.30" fill="none" stroke="#a447f2" stroke-width="1.30" stroke-linejoin="round" stroke-linecap="round" clip-path="url(#clipd)"/>
<path d="M386.90,436.40C387.68,435.47 389.85,432.17 391.60,430.80C393.35,429.43 395.63,428.40 397.40,428.20C399.17,428.00 400.90,428.83 402.20,429.60C403.50,430.37 404.02,433.32 405.20,432.80C406.38,432.28 407.62,430.20 409.30,426.50C410.98,422.80 413.32,414.67 415.30,410.60C417.28,406.53 419.38,404.85 421.20,402.10C423.02,399.35 424.63,397.43 426.20,394.10C427.77,390.77 429.27,386.18 430.60,382.10C431.93,378.02 433.13,372.37 434.20,369.60C435.27,366.83 436.03,367.10 437.00,365.50C437.97,363.90 438.92,361.83 440.00,360.00C441.08,358.17 442.42,356.42 443.50,354.50C444.58,352.58 445.50,351.09 446.50,348.50C447.50,345.91 448.67,343.10 449.50,338.99C450.33,334.87 450.83,328.79 451.50,323.82C452.17,318.86 452.83,313.75 453.50,309.19C454.17,304.64 454.83,300.19 455.50,296.51C456.17,292.83 456.83,289.53 457.50,287.13C458.17,284.73 458.83,282.95 459.50,282.14C460.17,281.33 460.83,281.24 461.50,282.29C462.17,283.34 462.83,285.52 463.50,288.44C464.17,291.37 464.83,295.43 465.50,299.83C466.17,304.24 466.83,309.57 467.50,314.86C468.17,320.15 468.83,326.04 469.50,331.59C470.17,337.15 470.70,342.95 471.50,348.19C472.30,353.42 473.62,357.70 474.30,363.00C474.98,368.30 475.15,374.33 475.60,380.00C476.05,385.67 476.45,392.92 477.00,397.00C477.55,401.08 478.15,402.50 478.90,404.50C479.65,406.50 480.57,408.00 481.50,409.00C482.43,410.00 483.47,410.25 484.50,410.50C485.53,410.75 486.10,410.23 487.70,410.50C489.30,410.77 491.70,410.90 494.10,412.10C496.50,413.30 499.97,417.43 502.10,417.70C504.23,417.97 505.28,415.03 506.90,413.70C508.52,412.37 509.92,409.17 511.80,409.70C513.68,410.23 516.07,413.82 518.20,416.90C520.33,419.98 522.47,425.92 524.60,428.20C526.73,430.48 528.58,430.60 531.00,430.60C533.42,430.60 536.42,429.40 539.10,428.20C541.78,427.00 544.70,423.40 547.10,423.40C549.50,423.40 551.37,426.47 553.50,428.20C555.63,429.93 557.75,432.60 559.90,433.80C562.05,435.00 564.25,434.47 566.40,435.40C568.55,436.33 571.03,439.05 572.80,439.40C574.57,439.75 575.57,438.15 577.00,437.50C578.43,436.85 579.60,435.97 581.40,435.50C583.20,435.03 585.38,435.02 587.80,434.70C590.22,434.38 593.48,433.33 595.90,433.60C598.32,433.87 600.17,435.18 602.30,436.30C604.43,437.42 606.28,440.30 608.70,440.30C611.12,440.30 614.12,436.57 616.80,436.30C619.48,436.03 622.13,438.30 624.80,438.70C627.47,439.10 629.87,438.97 632.80,438.70C635.73,438.43 639.18,437.23 642.40,437.10C645.62,436.97 648.88,437.50 652.10,437.90C655.32,438.30 658.48,439.15 661.70,439.50C664.92,439.85 668.72,439.92 671.40,440.00C674.08,440.08 675.88,439.88 677.80,440.00C679.72,440.12 682.05,440.58 682.90,440.70" fill="none" stroke="#4a64f0" stroke-width="1.20" stroke-linejoin="round" stroke-linecap="round" clip-path="url(#clipd)"/>
<path d="M387.60,437.20C388.38,436.27 390.55,432.97 392.30,431.60C394.05,430.23 396.33,429.20 398.10,429.00C399.87,428.80 401.60,429.63 402.90,430.40C404.20,431.17 404.72,434.12 405.90,433.60C407.08,433.08 408.32,431.00 410.00,427.30C411.68,423.60 414.02,415.47 416.00,411.40C417.98,407.33 420.08,405.65 421.90,402.90C423.72,400.15 425.33,398.23 426.90,394.90C428.47,391.57 429.97,386.98 431.30,382.90C432.63,378.82 433.80,373.38 434.90,370.40C436.00,367.42 437.05,365.73 437.90,365.00C438.75,364.27 439.27,365.80 440.00,366.00C440.73,366.20 441.40,366.37 442.30,366.20C443.20,366.03 444.53,366.53 445.40,365.00C446.27,363.47 446.82,360.00 447.50,357.00C448.18,354.00 448.87,350.12 449.50,347.00C450.13,343.88 450.67,341.89 451.30,338.27C451.93,334.64 452.63,329.33 453.30,325.26C453.97,321.20 454.63,317.19 455.30,313.88C455.97,310.57 456.63,307.57 457.30,305.41C457.97,303.24 458.63,301.62 459.30,300.88C459.97,300.14 460.63,300.10 461.30,300.95C461.97,301.80 462.63,303.58 463.30,305.97C463.97,308.37 464.63,311.69 465.30,315.32C465.97,318.94 466.63,323.32 467.30,327.71C467.97,332.09 468.63,336.97 469.30,341.61C469.97,346.25 470.63,351.10 471.30,355.55C471.97,360.00 472.60,364.23 473.30,368.31C474.00,372.38 474.85,374.72 475.50,380.00C476.15,385.28 476.25,394.65 477.20,400.00C478.15,405.35 479.45,409.68 481.20,412.10C482.95,414.52 485.55,414.63 487.70,414.50C489.85,414.37 492.23,410.90 494.10,411.30C495.97,411.70 497.30,415.28 498.90,416.90C500.50,418.52 502.10,420.87 503.70,421.00C505.30,421.13 506.75,419.32 508.50,417.70C510.25,416.08 512.58,411.83 514.20,411.30C515.82,410.77 516.47,412.22 518.20,414.50C519.93,416.78 522.47,422.45 524.60,425.00C526.73,427.55 528.87,429.00 531.00,429.80C533.13,430.60 535.25,430.47 537.40,429.80C539.55,429.13 542.02,426.47 543.90,425.80C545.78,425.13 547.10,424.60 548.70,425.80C550.30,427.00 551.90,430.73 553.50,433.00C555.10,435.27 556.70,439.00 558.30,439.40C559.90,439.80 561.22,436.07 563.10,435.40C564.98,434.73 567.62,434.98 569.60,435.40C571.58,435.82 573.30,438.02 575.00,437.90C576.70,437.78 578.20,434.97 579.80,434.70C581.40,434.43 582.72,435.42 584.60,436.30C586.48,437.18 589.22,440.13 591.10,440.00C592.98,439.87 594.03,436.12 595.90,435.50C597.77,434.88 600.17,435.90 602.30,436.30C604.43,436.70 606.28,437.50 608.70,437.90C611.12,438.30 614.12,438.70 616.80,438.70C619.48,438.70 622.13,438.48 624.80,437.90C627.47,437.32 629.87,435.73 632.80,435.20C635.73,434.67 639.18,434.70 642.40,434.70C645.62,434.70 648.88,434.93 652.10,435.20C655.32,435.47 658.48,436.12 661.70,436.30C664.92,436.48 668.72,436.30 671.40,436.30C674.08,436.30 675.88,436.30 677.80,436.30C679.72,436.30 682.05,436.30 682.90,436.30" fill="none" stroke="#1f9a70" stroke-width="1.20" stroke-linejoin="round" stroke-linecap="round" clip-path="url(#clipd)"/>
<path d="M387.20,436.80C387.98,435.87 390.15,432.57 391.90,431.20C393.65,429.83 395.93,428.80 397.70,428.60C399.47,428.40 401.20,429.23 402.50,430.00C403.80,430.77 404.32,433.72 405.50,433.20C406.68,432.68 407.92,430.60 409.60,426.90C411.28,423.20 413.62,415.07 415.60,411.00C417.58,406.93 419.68,405.25 421.50,402.50C423.32,399.75 424.93,397.83 426.50,394.50C428.07,391.17 429.57,386.58 430.90,382.50C432.23,378.42 433.52,372.67 434.50,370.00C435.48,367.33 436.13,367.13 436.80,366.50C437.47,365.87 437.58,365.83 438.50,366.20C439.42,366.57 441.25,368.28 442.30,368.70C443.35,369.12 444.07,369.32 444.80,368.70C445.53,368.08 446.07,367.50 446.70,365.00C447.33,362.50 448.02,356.87 448.60,353.70C449.18,350.53 449.78,348.61 450.20,346.00C450.62,343.39 450.62,341.56 451.10,338.07C451.58,334.58 452.43,329.13 453.10,325.06C453.77,321.00 454.43,316.99 455.10,313.68C455.77,310.37 456.43,307.37 457.10,305.21C457.77,303.04 458.43,301.42 459.10,300.68C459.77,299.94 460.43,299.90 461.10,300.75C461.77,301.60 462.43,303.38 463.10,305.77C463.77,308.17 464.43,311.49 465.10,315.12C465.77,318.74 466.43,323.12 467.10,327.51C467.77,331.89 468.43,336.77 469.10,341.41C469.77,346.05 470.43,350.90 471.10,355.35C471.77,359.80 472.42,364.00 473.10,368.11C473.78,372.21 474.55,374.52 475.20,380.00C475.85,385.48 476.00,395.78 477.00,401.00C478.00,406.22 479.42,409.05 481.20,411.30C482.98,413.55 485.55,413.97 487.70,414.50C489.85,415.03 491.97,414.77 494.10,414.50C496.23,414.23 498.37,413.03 500.50,412.90C502.63,412.77 504.75,413.17 506.90,413.70C509.05,414.23 511.25,415.03 513.40,416.10C515.55,417.17 517.67,418.35 519.80,420.10C521.93,421.85 523.80,425.12 526.20,426.60C528.60,428.08 531.52,428.73 534.20,429.00C536.88,429.27 539.62,428.07 542.30,428.20C544.98,428.33 547.63,428.73 550.30,429.80C552.97,430.87 555.62,433.40 558.30,434.60C560.98,435.80 563.98,436.47 566.40,437.00C568.82,437.53 571.03,437.72 572.80,437.80C574.57,437.88 575.57,437.88 577.00,437.50C578.43,437.12 579.60,435.97 581.40,435.50C583.20,435.03 585.65,434.57 587.80,434.70C589.95,434.83 592.15,435.77 594.30,436.30C596.45,436.83 598.57,437.50 600.70,437.90C602.83,438.30 604.42,438.83 607.10,438.70C609.78,438.57 613.58,437.42 616.80,437.10C620.02,436.78 623.20,436.80 626.40,436.80C629.60,436.80 632.78,436.92 636.00,437.10C639.22,437.28 642.48,437.55 645.70,437.90C648.92,438.25 652.10,439.07 655.30,439.20C658.50,439.33 661.68,438.92 664.90,438.70C668.12,438.48 671.60,437.77 674.60,437.90C677.60,438.03 681.52,439.23 682.90,439.50" fill="none" stroke="#f4a264" stroke-width="1.20" stroke-linejoin="round" stroke-linecap="round" clip-path="url(#clipd)"/>
<line x1="596.10" y1="255.70" x2="603.20" y2="255.70" stroke="#5a5a5a" stroke-width="1.4"/>
<text x="607.30" y="259.10" font-size="9.40" fill="#222222" text-anchor="start" font-weight="normal" textLength="63.60" lengthAdjust="spacingAndGlyphs">2Zn prereduced</text>
<line x1="596.10" y1="268.08" x2="603.20" y2="268.08" stroke="#b070f2" stroke-width="1.4"/>
<text x="607.30" y="271.50" font-size="9.40" fill="#222222" text-anchor="start" font-weight="normal" textLength="50.90" lengthAdjust="spacingAndGlyphs">2Zn reduced</text>
<line x1="596.10" y1="280.46" x2="603.20" y2="280.46" stroke="#5068f0" stroke-width="1.4"/>
<text x="607.30" y="283.90" font-size="9.40" fill="#222222" text-anchor="start" font-weight="normal" textLength="58.50" lengthAdjust="spacingAndGlyphs">2Zn no plasma</text>
<line x1="596.10" y1="292.84" x2="603.20" y2="292.84" stroke="#2a9a70" stroke-width="1.4"/>
<text x="607.30" y="296.30" font-size="9.40" fill="#222222" text-anchor="start" font-weight="normal" textLength="38.40" lengthAdjust="spacingAndGlyphs">2Zn 10 kV</text>
<line x1="596.10" y1="305.22" x2="603.20" y2="305.22" stroke="#f4a264" stroke-width="1.4"/>
<text x="607.30" y="308.70" font-size="9.40" fill="#222222" text-anchor="start" font-weight="normal" textLength="36.20" lengthAdjust="spacingAndGlyphs">2Zn 11 kV</text>
<text x="392.50" y="261.90" font-size="9.40" fill="#222222" text-anchor="start" font-weight="normal" textLength="14.60" lengthAdjust="spacingAndGlyphs">2Zn</text>
<text x="392.50" y="275.20" font-size="9.40" fill="#222222" text-anchor="start" font-weight="normal" textLength="32.40" lengthAdjust="spacingAndGlyphs">Zn edge</text>
<text x="497.50" y="470.70" font-size="9.40" fill="#222222" text-anchor="start" font-weight="normal" textLength="75.00" lengthAdjust="spacingAndGlyphs">Radial distance (&#197;)</text>
<text transform="translate(362.30,345.45) rotate(-90)" font-size="9.30" fill="#222222" text-anchor="middle" textLength="40.00" lengthAdjust="spacingAndGlyphs">|&#967;(<tspan font-style="italic">R</tspan>)| (&#197;<tspan font-size="6.51" dy="-3">&#8722;3</tspan><tspan dy="3">)</tspan></text>
<text x="352.40" y="251.60" font-size="13.00" fill="#000" text-anchor="start" font-weight="bold" stroke="#000" stroke-width="0.5">d</text>
</svg>
</body></html>
